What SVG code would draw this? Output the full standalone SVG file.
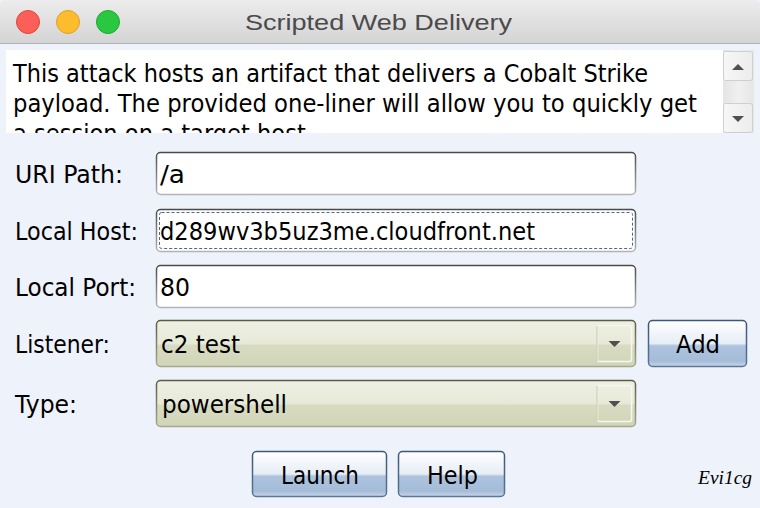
<svg xmlns="http://www.w3.org/2000/svg" width="760" height="508" viewBox="0 0 760 508">
<defs>
<linearGradient id="gTitle" x1="0" y1="0" x2="0" y2="1"><stop offset="0" stop-color="#ececec"/><stop offset="1" stop-color="#d4d4d4"/></linearGradient>
<linearGradient id="gFieldStroke" x1="0" y1="0" x2="0" y2="1"><stop offset="0" stop-color="#4a4a4a"/><stop offset="1" stop-color="#b4b4b4"/></linearGradient>
<linearGradient id="gCombo" x1="0" y1="0" x2="0" y2="1"><stop offset="0" stop-color="#eef0e3"/><stop offset="0.5" stop-color="#e7e9d8"/><stop offset="0.54" stop-color="#d8dbc1"/><stop offset="1" stop-color="#d1d5b7"/></linearGradient>
<linearGradient id="gComboStroke" x1="0" y1="0" x2="0" y2="1"><stop offset="0" stop-color="#5a5a46"/><stop offset="1" stop-color="#a6a890"/></linearGradient>
<linearGradient id="gBtn" x1="0" y1="0" x2="0" y2="1"><stop offset="0" stop-color="#ffffff"/><stop offset="0.5" stop-color="#e6edf6"/><stop offset="0.55" stop-color="#adc3de"/><stop offset="0.88" stop-color="#a5bcd9"/><stop offset="1" stop-color="#c8d6e9"/></linearGradient>
<linearGradient id="gBtnStroke" x1="0" y1="0" x2="0" y2="1"><stop offset="0" stop-color="#3c5878"/><stop offset="1" stop-color="#5a7696"/></linearGradient>
<linearGradient id="gScroll" x1="0" y1="0" x2="1" y2="0"><stop offset="0" stop-color="#f7f7f7"/><stop offset="1" stop-color="#ececec"/></linearGradient>
<linearGradient id="gTrack" x1="0" y1="0" x2="1" y2="0"><stop offset="0" stop-color="#e4e4e4"/><stop offset="0.5" stop-color="#f0f0f0"/><stop offset="1" stop-color="#e6e6e6"/></linearGradient>
<clipPath id="clipText"><rect x="6" y="50" width="717" height="83"/></clipPath>
</defs>
<style>
.ui{font-family:"DejaVu Sans","Verdana",sans-serif;font-size:24px;fill:#000}
.field{fill:#ffffff;stroke:url(#gFieldStroke);stroke-width:1.5}
.combo{fill:url(#gCombo);stroke:url(#gComboStroke);stroke-width:1.5}
.ddbtn{fill:none;stroke:#f6f7ef;stroke-width:1.5}
.arrow{fill:#505050}
.btn{fill:url(#gBtn);stroke:url(#gBtnStroke);stroke-width:1.5}
.sbtn{fill:url(#gScroll);stroke:#cfcfcf;stroke-width:1}
</style>
<rect x="0" y="0" width="760" height="508" fill="#eef2fa"/>
<g id="titlebar">
<path d="M0,43 L0,6 Q0,0 6,0 L754,0 Q760,0 760,6 L760,43 Z" fill="url(#gTitle)"/>
<line x1="0" y1="43.5" x2="760" y2="43.5" stroke="#b3b3b3" stroke-width="1"/>
<circle cx="28" cy="22" r="11.5" fill="#fc5f57" stroke="#e0443e" stroke-width="1"/>
<circle cx="68" cy="22" r="11.5" fill="#fdbc2e" stroke="#dea123" stroke-width="1"/>
<circle cx="108" cy="22" r="11.5" fill="#2ac840" stroke="#1aab29" stroke-width="1"/>
<text x="245" y="30" font-family="'Liberation Sans','Helvetica',sans-serif" font-size="22" fill="#4b4b4b" textLength="267" lengthAdjust="spacingAndGlyphs">Scripted Web Delivery</text>
</g>
<g id="description">
<rect x="6" y="50" width="717" height="83" fill="#ffffff"/>
<g clip-path="url(#clipText)">
<text class="ui" x="13" y="82" textLength="635" lengthAdjust="spacingAndGlyphs">This attack hosts an artifact that delivers a Cobalt Strike</text>
<text class="ui" x="13" y="112" textLength="684" lengthAdjust="spacingAndGlyphs">payload. The provided one-liner will allow you to quickly get</text>
<text class="ui" x="13" y="142" textLength="300" lengthAdjust="spacingAndGlyphs">a session on a target host.</text>
</g>
</g>
<g id="scrollbar">
<rect x="723" y="50" width="31" height="83" fill="url(#gTrack)"/>
<rect x="723.5" y="51.5" width="29" height="29" rx="2" class="sbtn"/>
<polygon points="732,70 744,70 738,64" class="arrow"/>
<rect x="723.5" y="103.5" width="29" height="29" rx="2" class="sbtn"/>
<polygon points="732,116 744,116 738,122" class="arrow"/>
</g>
<g id="uri-path">
<text class="ui" x="15" y="183" textLength="108" lengthAdjust="spacingAndGlyphs">URI Path:</text>
<rect x="156.5" y="152.5" width="479" height="42" rx="4" class="field"/>
<text class="ui" x="160" y="183" textLength="25" lengthAdjust="spacingAndGlyphs">/a</text>
</g>
<g id="local-host">
<text class="ui" x="15" y="240" textLength="123" lengthAdjust="spacingAndGlyphs">Local Host:</text>
<rect x="156.5" y="209.5" width="479" height="42" rx="4" class="field"/>
<rect x="159.5" y="212.5" width="473" height="36" rx="2" fill="none" stroke="#4a6690" stroke-width="1" stroke-dasharray="3,2"/>
<text class="ui" x="160" y="240" textLength="375" lengthAdjust="spacingAndGlyphs">d289wv3b5uz3me.cloudfront.net</text>
</g>
<g id="local-port">
<text class="ui" x="15" y="296" textLength="121" lengthAdjust="spacingAndGlyphs">Local Port:</text>
<rect x="156.5" y="265.5" width="479" height="42" rx="4" class="field"/>
<text class="ui" x="160" y="296" textLength="30" lengthAdjust="spacingAndGlyphs">80</text>
</g>
<g id="listener">
<text class="ui" x="15" y="353" textLength="95" lengthAdjust="spacingAndGlyphs">Listener:</text>
<rect x="156.5" y="320.5" width="479" height="46" rx="4" class="combo"/>
<rect x="597.5" y="325.5" width="34" height="36" rx="2" class="ddbtn"/>
<line x1="597" y1="326" x2="597" y2="361" stroke="#c4c6ae" stroke-width="1"/>
<polygon points="608.5,341 620.5,341 614.5,347" class="arrow"/>
<text class="ui" x="161" y="353" textLength="79" lengthAdjust="spacingAndGlyphs">c2 test</text>
</g>
<g id="add-button">
<rect x="648.5" y="320.5" width="98" height="46" rx="4" class="btn"/>
<text class="ui" x="676" y="353" textLength="44" lengthAdjust="spacingAndGlyphs">Add</text>
</g>
<g id="type">
<text class="ui" x="15" y="413" textLength="62" lengthAdjust="spacingAndGlyphs">Type:</text>
<rect x="156.5" y="380.5" width="479" height="46" rx="4" class="combo"/>
<rect x="597.5" y="385.5" width="34" height="36" rx="2" class="ddbtn"/>
<line x1="597" y1="386" x2="597" y2="421" stroke="#c4c6ae" stroke-width="1"/>
<polygon points="608.5,401 620.5,401 614.5,407" class="arrow"/>
<text class="ui" x="162" y="413" textLength="125" lengthAdjust="spacingAndGlyphs">powershell</text>
</g>
<g id="launch-button">
<rect x="252.5" y="451.5" width="134" height="45" rx="4" class="btn"/>
<text class="ui" x="281" y="484" textLength="78" lengthAdjust="spacingAndGlyphs">Launch</text>
</g>
<g id="help-button">
<rect x="398.5" y="451.5" width="106" height="45" rx="4" class="btn"/>
<text class="ui" x="427" y="484" textLength="51" lengthAdjust="spacingAndGlyphs">Help</text>
</g>
<g id="watermark">
<text x="698" y="484" font-family="'Liberation Serif','Times New Roman',serif" font-style="italic" font-size="19" fill="#000" textLength="54" lengthAdjust="spacingAndGlyphs">Evi1cg</text>
</g>
</svg>
